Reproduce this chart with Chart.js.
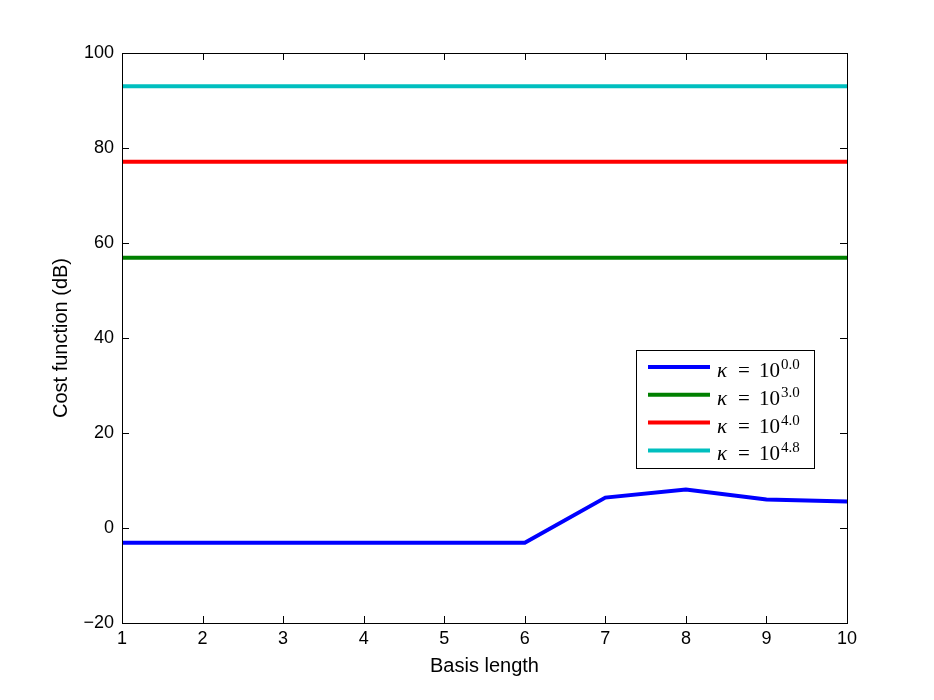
<!DOCTYPE html>
<html>
<head>
<meta charset="utf-8">
<script src="https://cdn.jsdelivr.net/npm/chart.js@4.4.1/dist/chart.umd.min.js"></script>
<style>
  html, body { margin: 0; padding: 0; background: #fff; }
  #wrap { width: 934px; height: 700px; }
</style>
</head>
<body>
<div id="wrap"><canvas id="costChart"></canvas></div>
<script>
// data
const basisLength = [1, 2, 3, 4, 5, 6, 7, 8, 9, 10];
const kappaExp = ['0.0', '3.0', '4.0', '4.8'];
const cost0 = [-3.1, -3.1, -3.1, -3.1, -3.1, -3.1, 6.4, 8.1, 6.0, 5.6];
const cost3 = [56.9, 56.9, 56.9, 56.9, 56.9, 56.9, 56.9, 56.9, 56.9, 56.9];
const cost4 = [77.1, 77.1, 77.1, 77.1, 77.1, 77.1, 77.1, 77.1, 77.1, 77.1];
const cost48 = [93.0, 93.0, 93.0, 93.0, 93.0, 93.0, 93.0, 93.0, 93.0, 93.0];
const yTicks = [-20, 0, 20, 40, 60, 80, 100];

const colors = ['#0000ff', '#008000', '#ff0000', '#00bfbf'];
const series = [cost0, cost3, cost4, cost48];

function toPoints(vals) {
    return vals.map((v, i) => ({ x: basisLength[i], y: v }));
}

// box, inward ticks on all four sides, and the matlab-ish legend
const boxPlugin = {
    id: 'boxPlugin',
    afterDraw(chart) {
        const ctx = chart.ctx;
        const a = chart.chartArea;
        const xs = chart.scales.x;
        const ys = chart.scales.y;
        const tl = 7;
        ctx.save();
        ctx.strokeStyle = '#000';
        ctx.lineWidth = 1;
        ctx.strokeRect(a.left + 0.5, a.top + 0.5, a.right - a.left, a.bottom - a.top);
        ctx.beginPath();
        basisLength.forEach(v => {
            const px = Math.round(xs.getPixelForValue(v)) + 0.5;
            ctx.moveTo(px, a.bottom); ctx.lineTo(px, a.bottom - tl);
            ctx.moveTo(px, a.top); ctx.lineTo(px, a.top + tl);
        });
        yTicks.forEach(v => {
            const py = Math.round(ys.getPixelForValue(v)) + 0.5;
            ctx.moveTo(a.left, py); ctx.lineTo(a.left + tl, py);
            ctx.moveTo(a.right, py); ctx.lineTo(a.right - tl, py);
        });
        ctx.stroke();

        // legend
        const lx = 636, ly = 350, lw = 178, lh = 118;
        ctx.fillStyle = '#fff';
        ctx.fillRect(lx, ly, lw, lh);
        ctx.strokeRect(lx + 0.5, ly + 0.5, lw, lh);
        chart.data.datasets.forEach((ds, i) => {
            const y = 367 + i * 27.8;
            ctx.strokeStyle = ds.borderColor;
            ctx.lineWidth = 4;
            ctx.beginPath();
            ctx.moveTo(648, y); ctx.lineTo(710, y);
            ctx.stroke();
            ctx.fillStyle = '#000';
            ctx.textBaseline = 'alphabetic';
            ctx.textAlign = 'left';
            ctx.font = 'italic 21px "Liberation Serif"';
            ctx.fillText('\u03ba', 717, y + 10);
            ctx.font = '21px "Liberation Serif"';
            ctx.fillText('=', 738, y + 10);
            ctx.fillText('10', 759, y + 10);
            ctx.font = '15px "Liberation Serif"';
            ctx.fillText(kappaExp[i], 781, y + 2);
        });
        ctx.restore();
    }
};

const ctx = document.getElementById('costChart').getContext('2d');
const chart = new Chart(ctx, {
    type: 'line',
    data: {
        datasets: series.map((s, i) => ({
            label: '\u03ba = 10^' + kappaExp[i],
            data: toPoints(s),
            borderColor: colors[i],
            backgroundColor: colors[i],
            borderWidth: 4,
            pointRadius: 0,
            tension: 0,
            fill: false
        }))
    },
    options: {
        responsive: true,
        maintainAspectRatio: false,
        animation: false,
        layout: { padding: { top: 53, right: 87, left: 0, bottom: 0 } },
        plugins: {
            legend: { display: false },
            tooltip: { enabled: false }
        },
        scales: {
            x: {
                type: 'linear',
                min: 1,
                max: 10,
                afterFit: s => { s.height = 77; },
                afterBuildTicks: s => { s.ticks = basisLength.map(v => ({ value: v })); },
                grid: { display: false, drawTicks: false },
                border: { display: false },
                ticks: { color: '#000', padding: 5, maxRotation: 0, font: { family: 'Liberation Sans', size: 18 } },
                title: {
                    display: true,
                    text: 'Basis length',
                    color: '#000',
                    padding: { bottom: 22 },
                    font: { family: 'Liberation Sans', size: 20 }
                }
            },
            y: {
                min: -20,
                max: 100,
                afterFit: s => { s.width = 122; },
                afterBuildTicks: s => { s.ticks = yTicks.map(v => ({ value: v })); },
                grid: { display: false, drawTicks: false },
                border: { display: false },
                ticks: {
                    color: '#000',
                    padding: 8,
                    font: { family: 'Liberation Sans', size: 18 },
                    callback: v => String(v).replace('-', '\u2212')
                },
                title: {
                    display: true,
                    text: 'Cost function (dB)',
                    color: '#000',
                    padding: { top: 49 },
                    font: { family: 'Liberation Sans', size: 20 }
                }
            }
        }
    },
    plugins: [boxPlugin]
});
</script>
</body>
</html>
